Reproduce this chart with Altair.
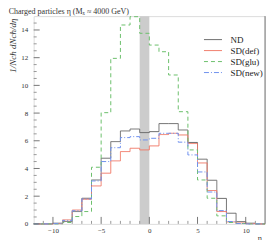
import altair as alt
import pandas as pd

# bin edges (eta) and per-bin values
edges = list(range(-12, 13))
series_names = ["ND", "SD(def)", "SD(glu)", "SD(new)"]
nd = [0, 0, 0.05, 0.17, 0.89, 1.85, 3.17, 4.74, 5.94, 6.71, 6.85, 6.59,
      6.66, 7.24, 7.24, 6.78, 5.88, 4.67, 3.15, 1.84, 0.77, 0.17, 0.05, 0]
sd_def = [0, 0, 0.02, 0.29, 1.0, 1.78, 2.74, 3.66, 4.55, 5.22, 5.46, 5.34,
          5.63, 6.45, 6.54, 6.42, 5.8, 4.4, 2.41, 0.89, 0.14, 0.07, 0.02, 0]
sd_glu = [0, 0, 0, 0.1, 0.53, 0.89, 4.09, 8.03, 11.95, 14.36, 14.96, 13.76,
          12.91, 12.43, 10.75, 8.1, 5.34, 3.17, 1.85, 0.58, 0.1, 0.03, 0, 0]
sd_new = [0, 0, 0.02, 0.25, 0.95, 1.8, 3.1, 4.5, 5.5, 6.23, 6.3, 6.06,
          6.18, 6.54, 6.54, 5.9, 4.98, 3.75, 2.3, 0.96, 0.17, 0.03, 0, 0]
colors = ["#6a6a6a", "#f07a68", "#6cc06c", "#7092ee"]
dashes = [[1, 0], [1, 0], [4, 3], [5, 2, 1, 2]]

band = [-1, 0]
y_major = [0, 2, 4, 6, 8, 10, 12, 14]
y_minor = [v / 2 for v in range(0, 30) if v % 4 != 0]
x_major = [-10, -5, 0, 5, 10]
x_minor = [v for v in range(-11, 12) if v % 5 != 0]

rows = []
for name, vals in zip(series_names, [nd, sd_def, sd_glu, sd_new]):
    ext = vals + [vals[-1]]
    for e, v in zip(edges, ext):
        rows.append({"eta": e, "val": v, "series": name})
df = pd.DataFrame(rows)

W, H = 231.6, 208
FONT = "Liberation Serif"

xs = alt.Scale(domain=[-12, 12], nice=False, zero=False)
ys = alt.Scale(domain=[0, 15], nice=False)

xaxis = alt.Axis(values=x_major, ticks=False, domain=False, grid=False,
                 labelFont=FONT, labelFontSize=7, labelColor="#333",
                 labelPadding=3, labelOverlap=False, labelFlush=False,
                 title="η", titleFont=FONT,
                 titleFontSize=8, titleFontWeight="normal",
                 titleX=226, titleY=15, titleBaseline="middle",
                 titleColor="#333")
yaxis = alt.Axis(values=y_major, ticks=False, domain=False, grid=False,
                 labelFont=FONT, labelFontSize=7, labelColor="#333",
                 labelPadding=6, labelOverlap=False, labelFlush=False,
                 title="1/Nch dNch/dη", titleFont=FONT,
                 titleFontSize=9, titleFontWeight="normal",
                 titleFontStyle="italic", titleColor="#333",
                 titleX=-25, titleY=2, titleAlign="right",
                 titleBaseline="top", titleAngle=270)

bandc = alt.Chart(pd.DataFrame({"a": [band[0]], "b": [band[1]]})).mark_rect(
    color="#cccccc").encode(
    x=alt.X("a:Q", scale=xs, axis=xaxis, title="η"),
    x2="b:Q",
    y=alt.value(0), y2=alt.value(H))

leg = alt.Legend(orient="none", legendX=175, legendY=19,
                 title=None, symbolType="M-9,0H9",
                 symbolSize=4, symbolStrokeWidth=1,
                 labelFont=FONT, labelFontSize=9,
                 labelColor="#222", rowPadding=1,
                 labelOffset=13)

lines = alt.Chart(df).mark_line(interpolate="step-after", strokeWidth=1).encode(
    x=alt.X("eta:Q", scale=xs, axis=xaxis, title="η"),
    y=alt.Y("val:Q", scale=ys, axis=yaxis, title="1/Nch dNch/dη"),
    color=alt.Color("series:N",
                    scale=alt.Scale(domain=series_names, range=colors),
                    legend=leg),
    strokeDash=alt.StrokeDash("series:N",
                              scale=alt.Scale(domain=series_names, range=dashes),
                              legend=leg),
    order=alt.Order("eta:Q"),
)

ymaj = alt.Chart(pd.DataFrame({"v": y_major})).mark_rule(
    color="#777", strokeWidth=1).encode(
    y=alt.Y("v:Q", scale=ys, axis=yaxis, title="1/Nch dNch/dη"),
    x=alt.value(0), x2=alt.value(6))
ymin = alt.Chart(pd.DataFrame({"v": y_minor})).mark_rule(
    color="#999", strokeWidth=1).encode(
    y=alt.Y("v:Q", scale=ys, axis=yaxis, title="1/Nch dNch/dη"),
    x=alt.value(0), x2=alt.value(3))
xmaj = alt.Chart(pd.DataFrame({"v": x_major})).mark_rule(
    color="#777", strokeWidth=1).encode(
    x=alt.X("v:Q", scale=xs, axis=xaxis, title="η"),
    y=alt.value(H), y2=alt.value(H - 7))
xmin = alt.Chart(pd.DataFrame({"v": x_minor})).mark_rule(
    color="#999", strokeWidth=1).encode(
    x=alt.X("v:Q", scale=xs, axis=xaxis, title="η"),
    y=alt.value(H), y2=alt.value(H - 3))
frame = alt.Chart(pd.DataFrame({"v": [12]})).mark_rule(
    color="#777", strokeWidth=1).encode(
    x=alt.X("v:Q", scale=xs, axis=xaxis, title="η"),
    y=alt.value(0), y2=alt.value(H))

chart = alt.layer(bandc, lines, ymin, ymaj, xmin, xmaj, frame).properties(
    width=W, height=H,
    autosize=alt.AutoSizeParams(type="none"),
    padding={"left": 25.7, "top": 8, "right": 1, "bottom": 16},
    title=alt.TitleParams("Charged particles η (Mₓ ≈ 4000 GeV)", anchor="start",
                          font=FONT, fontSize=8, fontWeight="normal",
                          color="#333", offset=-1),
).configure_view(stroke=None).configure(background="white")

chart.save("out.html", embed_options={"renderer": "svg", "actions": False})
